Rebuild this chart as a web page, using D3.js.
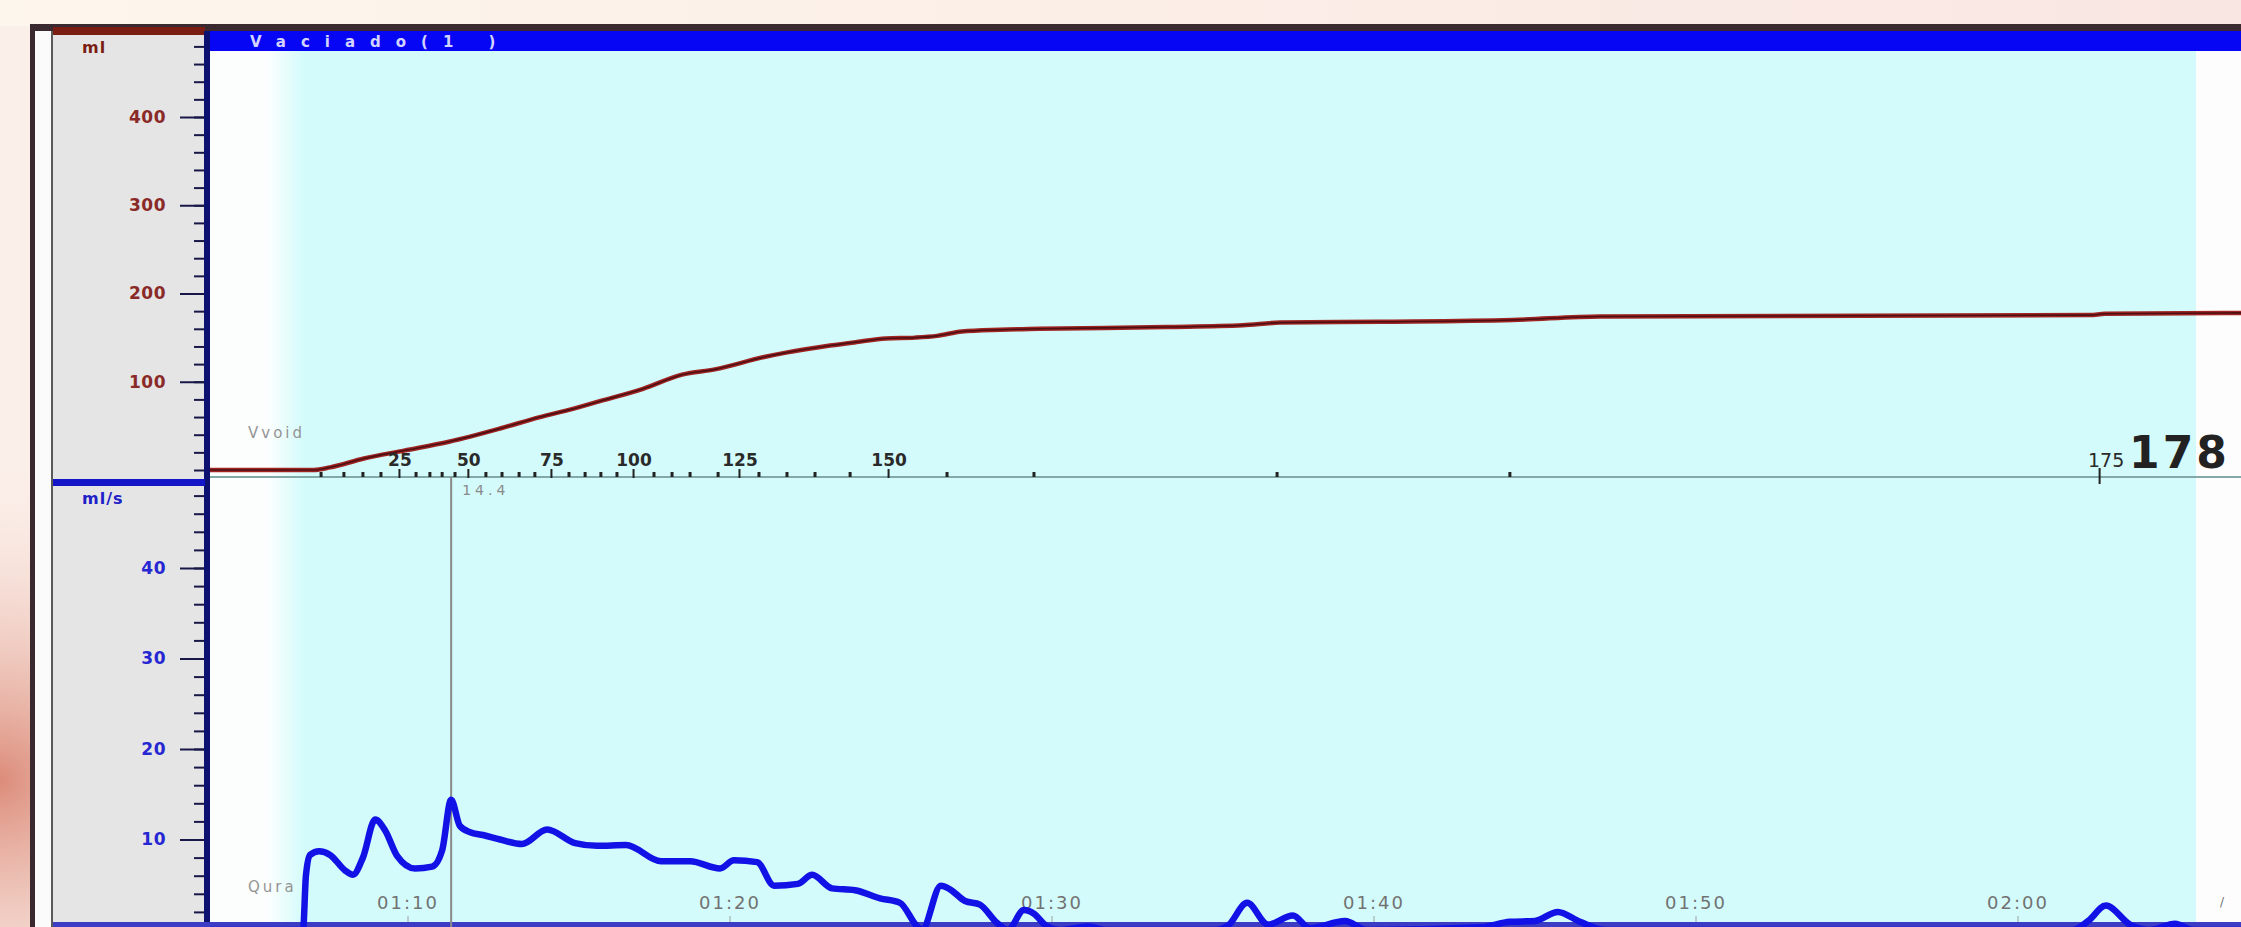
<!DOCTYPE html>
<html>
<head>
<meta charset="utf-8">
<script src="https://cdn.jsdelivr.net/npm/d3@7"></script>
<style>
  html, body { margin: 0; padding: 0; background: #fcf3ec; }
  svg { display: block; }
  text { font-family: "DejaVu Sans", Arial, sans-serif; }
</style>
</head>
<body>
<svg id="chart" width="2241" height="927"></svg>
<script>
// ---- data (time in seconds) ----
const volTimes  = [63.85, 67.08, 67.58, 68.63, 69.88, 71.27, 72.86, 74.10, 75.09, 75.96, 77.30, 78.51, 79.53, 81.06, 81.74, 83.11, 83.94, 84.84, 85.75, 86.43, 87.20, 88.39, 89.60, 93.54, 95.93, 97.08, 100.19, 104.29, 107.02, 122.24, 122.70, 126.93];
const volValues = [0, 0, 3, 13, 22, 32, 47, 60, 69, 78, 92, 108, 114, 128, 133, 141, 145, 149, 150, 152, 157, 159, 160, 162, 164, 167, 168, 170, 174, 175.5, 177, 178];

const flowTimes  = [63.85, 66.74, 66.83, 66.96, 67.24, 67.58, 68.04, 68.29, 68.60, 68.98, 69.29, 69.66, 70.22, 70.75, 71.06, 71.34, 71.61, 71.93, 72.33, 72.86, 73.54, 74.32, 75.19, 75.87, 76.77, 77.86, 78.76, 79.69, 80.12, 80.84, 81.37, 82.11, 82.55, 83.17, 83.88, 84.66, 85.28, 85.81, 85.96, 86.55, 86.83, 87.30, 87.76, 88.29, 88.63, 89.13, 89.44, 89.84, 90.25, 91.12, 91.65, 95.06, 95.47, 96.06, 96.71, 97.48, 98.01, 99.10, 99.78, 103.29, 104.22, 105.00, 105.71, 106.40, 107.17, 121.71, 122.18, 122.73, 123.48, 124.10, 124.88, 125.44, 126.93];
const flowValues = [0, 0, 6.0, 8.3, 8.7, 8.3, 6.6, 6.1, 8.0, 12.2, 11.0, 8.2, 6.8, 7.0, 8.8, 14.4, 11.5, 10.8, 10.5, 10.0, 9.5, 11.1, 9.6, 9.3, 9.4, 7.6, 7.6, 6.8, 7.7, 7.5, 4.9, 5.1, 6.1, 4.6, 4.4, 3.5, 3.0, 0.4, 0, 4.9, 4.5, 3.2, 2.8, 0.8, 0, 2.2, 1.8, 0.4, 0, 0.4, 0, 0, 0.5, 3.0, 0.6, 1.6, 0.2, 1.0, 0, 0.3, 0.9, 1.0, 2.0, 0.9, 0, 0, 1.0, 2.7, 0.6, 0, 0.7, 0, 0];

// volume marks every 5 ml, and the time each was reached
const markVolumes = [5, 10, 15, 20, 25, 30, 35, 40, 45, 50, 55, 60, 65, 70, 75, 80, 85, 90, 95, 100, 105, 110, 115, 120, 125, 130, 135, 140, 145, 150, 155, 160, 165, 170, 175];
const markTimes   = [67.30, 68.01, 68.60, 69.16, 69.75, 70.25, 70.68, 71.06, 71.46, 71.89, 72.42, 72.92, 73.45, 73.94, 74.47, 75.00, 75.50, 75.99, 76.49, 77.02, 77.64, 78.20, 78.76, 79.63, 80.31, 80.90, 81.77, 82.64, 83.73, 84.94, 86.74, 89.44, 96.99, 104.22, 122.55];
const totalVolume = 178;

const timeTicks  = [70, 80, 90, 100, 110, 120];
const timeLabels = ["01:10", "01:20", "01:30", "01:40", "01:50", "02:00"];
const volMajorTicks  = [100, 200, 300, 400];
const flowMajorTicks = [10, 20, 30, 40];
const cursorTime = 71.34;

const svg = d3.select("#chart");
const W = 2241, H = 927;

// scales
const x = d3.scaleLinear().domain([70, 120]).range([408, 2018]);
const yVol = d3.scaleLinear().domain([0, 400]).range([470, 117]);
const yFlow = d3.scaleLinear().domain([0, 40]).range([930, 568]);

const plotLeft = 210, divY = 477;

// gradients
const defs = svg.append("defs");
const topGrad = defs.append("linearGradient").attr("id", "topGrad");
topGrad.append("stop").attr("offset", "0%").attr("stop-color", "#fdf6ec");
topGrad.append("stop").attr("offset", "100%").attr("stop-color", "#f9e6e2");
const blot = defs.append("radialGradient").attr("id", "blot")
    .attr("gradientUnits", "userSpaceOnUse").attr("cx", 0).attr("cy", 780).attr("r", 330);
blot.append("stop").attr("offset", "0%").attr("stop-color", "#dc8c7a");
blot.append("stop").attr("offset", "100%").attr("stop-color", "#fbeee8").attr("stop-opacity", 0);
const cyanEdge = defs.append("linearGradient").attr("id", "cyanEdge")
    .attr("gradientUnits", "userSpaceOnUse").attr("x1", 268).attr("x2", 304).attr("y1", 0).attr("y2", 0);
cyanEdge.append("stop").attr("offset", "0%").attr("stop-color", "#fcfefe");
cyanEdge.append("stop").attr("offset", "100%").attr("stop-color", "#d4fbfb");

defs.append("clipPath").attr("id", "clipTop").append("rect")
    .attr("x", plotLeft).attr("y", 51).attr("width", W - plotLeft).attr("height", divY - 51);
defs.append("clipPath").attr("id", "clipBottom").append("rect")
    .attr("x", plotLeft).attr("y", divY).attr("width", W - plotLeft).attr("height", H - divY);

// page background
svg.append("rect").attr("width", W).attr("height", H).attr("fill", "#fbefe9");
svg.append("rect").attr("width", W).attr("height", 26).attr("fill", "url(#topGrad)");
svg.append("rect").attr("width", 32).attr("height", H).attr("fill", "url(#blot)");

// window frame
svg.append("rect").attr("x", 30).attr("y", 24).attr("width", W - 30).attr("height", H - 24).attr("fill", "#3a2a30");
svg.append("rect").attr("x", 35).attr("y", 31).attr("width", 16).attr("height", H - 31).attr("fill", "#fbfbfb");
svg.append("rect").attr("x", 51).attr("y", 31).attr("width", 2).attr("height", H - 31).attr("fill", "#5a5a5a");
svg.append("rect").attr("x", 53).attr("y", 31).attr("width", 152).attr("height", H - 31).attr("fill", "#e5e5e5");
svg.append("rect").attr("x", 53).attr("y", 27).attr("width", 152).attr("height", 8).attr("fill", "#7a1d14");

// plot backgrounds
svg.append("rect").attr("x", plotLeft).attr("y", 51).attr("width", 2196 - plotLeft).attr("height", H - 51).attr("fill", "url(#cyanEdge)");
svg.append("rect").attr("x", 2196).attr("y", 51).attr("width", W - 2196).attr("height", H - 51).attr("fill", "#fdfdfd");

// header bar
svg.append("rect").attr("x", 205).attr("y", 31).attr("width", W - 205).attr("height", 20).attr("fill", "#0606f4");
svg.append("text").attr("x", 250).attr("y", 47)
    .attr("font-size", 15).attr("font-weight", "bold").attr("letter-spacing", 15)
    .attr("fill", "#d2d3ff").text("Vaciado(1 )");

// axis line, panel divider, bottom edge
svg.append("rect").attr("x", 204).attr("y", 31).attr("width", 6).attr("height", H - 31).attr("fill", "#0d1170");
svg.append("rect").attr("x", 53).attr("y", 479).attr("width", 152).attr("height", 7).attr("fill", "#1515c8");
svg.append("rect").attr("x", 53).attr("y", 922).attr("width", W - 53).attr("height", 5).attr("fill", "#3c3cc4");

// y axes
function drawAxis(scale, minorVals, majorVals, color) {
    const gMinor = svg.append("g").attr("transform", "translate(204,0)")
        .call(d3.axisLeft(scale).tickValues(minorVals).tickSize(10).tickFormat(""));
    const gMajor = svg.append("g").attr("transform", "translate(204,0)")
        .call(d3.axisLeft(scale).tickValues(majorVals).tickSize(24).tickPadding(14));
    [gMinor, gMajor].forEach(g => {
        g.select(".domain").remove();
        g.selectAll("line").attr("stroke", "#181848").attr("stroke-width", 2);
    });
    gMajor.selectAll("text")
        .attr("font-family", "DejaVu Sans, Arial, sans-serif")
        .attr("font-size", 17).attr("font-weight", "bold").attr("letter-spacing", 0.5)
        .attr("fill", color);
}
drawAxis(yVol, d3.range(0, 481, 20), volMajorTicks, "#8a2a28");
drawAxis(yFlow, d3.range(0, 49, 2), flowMajorTicks, "#2626d2");

svg.append("text").attr("x", 82).attr("y", 53).attr("font-size", 16).attr("font-weight", "bold")
    .attr("letter-spacing", 1).attr("fill", "#7a1d14").text("ml");
svg.append("text").attr("x", 82).attr("y", 504).attr("font-size", 16).attr("font-weight", "bold")
    .attr("letter-spacing", 1).attr("fill", "#2020c8").text("ml/s");

// channel names
svg.append("text").attr("x", 248).attr("y", 438).attr("font-size", 15).attr("letter-spacing", 3)
    .attr("fill", "#949494").text("Vvoid");
svg.append("text").attr("x", 248).attr("y", 892).attr("font-size", 15).attr("letter-spacing", 3)
    .attr("fill", "#949494").text("Qura");

// time labels and small ticks
const tg = svg.append("g");
tg.selectAll("text").data(timeTicks).join("text")
    .attr("x", d => x(d)).attr("y", 909)
    .attr("text-anchor", "middle").attr("font-size", 18).attr("letter-spacing", 2)
    .attr("fill", "#727272")
    .text((d, i) => timeLabels[i]);
tg.selectAll("line").data(timeTicks).join("line")
    .attr("x1", d => x(d)).attr("x2", d => x(d)).attr("y1", 916).attr("y2", 922)
    .attr("stroke", "#a0a0a0").attr("stroke-width", 1);
svg.append("text").attr("x", 2220).attr("y", 906).attr("font-size", 12)
    .attr("fill", "#707070").text("/");

// volume curve
const volLine = d3.line()
    .x((d, i) => x(volTimes[i]))
    .y(d => yVol(d))
    .curve(d3.curveMonotoneX);
const topG = svg.append("g").attr("clip-path", "url(#clipTop)");
topG.append("path").datum(volValues).attr("d", volLine)
    .attr("fill", "none").attr("stroke", "#a02424").attr("stroke-width", 4.5);
topG.append("path").datum(volValues).attr("d", volLine)
    .attr("fill", "none").attr("stroke", "#4a0f10").attr("stroke-width", 1.6);

// volume mark axis
svg.append("line").attr("x1", plotLeft).attr("x2", W).attr("y1", divY).attr("y2", divY)
    .attr("stroke", "#82a8a8").attr("stroke-width", 2);
svg.append("g").selectAll("rect").data(markVolumes).join("rect")
    .attr("x", (d, i) => x(markTimes[i]) - 1.5)
    .attr("y", d => d % 25 === 0 ? (d === 175 ? 468 : 469) : 472)
    .attr("width", d => d % 25 === 0 ? 2 : 3)
    .attr("height", d => d % 25 === 0 ? (d === 175 ? 16 : 9) : 5)
    .attr("fill", "#222");
svg.append("g").selectAll("text").data(markVolumes.filter(v => v % 25 === 0 && v < 175)).join("text")
    .attr("x", v => x(markTimes[markVolumes.indexOf(v)]))
    .attr("y", 466)
    .attr("text-anchor", "middle").attr("font-size", 17).attr("font-weight", "bold")
    .attr("fill", "#2a2a2a").text(v => v);
const lastIdx = markVolumes.length - 1;
svg.append("text").attr("x", x(markTimes[lastIdx]) + 6).attr("y", 467)
    .attr("text-anchor", "middle").attr("font-size", 19)
    .attr("fill", "#2a2a2a").text(markVolumes[lastIdx]);
svg.append("text").attr("x", x(markTimes[lastIdx]) + 29).attr("y", 468)
    .attr("font-size", 44).attr("font-weight", "bold").attr("letter-spacing", 3)
    .attr("fill", "#222").text(totalVolume);

// flow curve
const flowLine = d3.line()
    .x((d, i) => x(flowTimes[i]))
    .y(d => yFlow(d))
    .curve(d3.curveMonotoneX);
const bottomG = svg.append("g").attr("clip-path", "url(#clipBottom)");
bottomG.append("line")
    .attr("x1", x(cursorTime)).attr("x2", x(cursorTime)).attr("y1", divY).attr("y2", H)
    .attr("stroke", "#8a8a8a").attr("stroke-width", 2);
bottomG.append("path").datum(flowValues).attr("d", flowLine)
    .attr("fill", "none").attr("stroke", "#1212e6").attr("stroke-width", 6.5)
    .attr("stroke-linejoin", "round");
svg.append("text").attr("x", x(cursorTime) + 11).attr("y", 495)
    .attr("font-size", 14).attr("letter-spacing", 4).attr("fill", "#8a8a8a")
    .text(d3.max(flowValues).toFixed(1));
</script>
</body>
</html>
